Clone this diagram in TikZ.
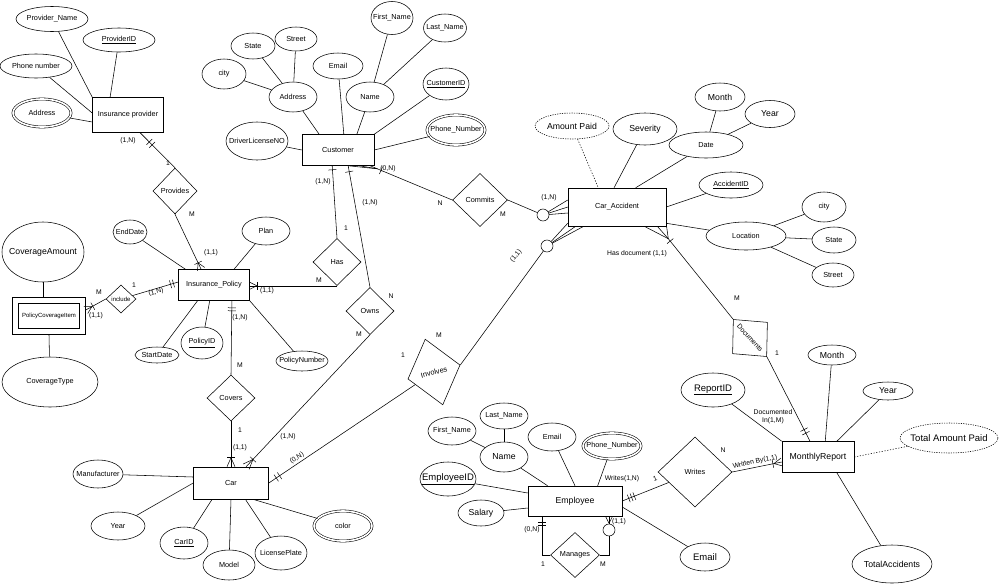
\documentclass[tikz,border=0pt]{standalone}
\usepackage{fontspec}
\setmainfont{Liberation Sans}
\usetikzlibrary{shapes.geometric,calc,decorations.markings}
\tikzset{
  every node/.style={font=\fontsize{7.3}{8.5}\selectfont},
  zw/.style={execute at begin node={\hbox to 0pt\bgroup\hss}, execute at end node={\hss\egroup}},
  sz/.style 2 args={minimum width=#1pt, minimum height=#2pt},
  ent/.style={draw, rectangle, inner sep=0pt},
  weak/.style={ent, double, double distance=5pt},
  attr/.style={draw, ellipse, inner sep=0pt, zw},
  multi/.style={attr, double, double distance=1.6pt},
  derived/.style={attr, dash pattern=on 1.2pt off 1.2pt},
  rel/.style={draw, diamond, inner sep=0pt, zw},
  knot/.style={draw, circle, inner sep=0pt, minimum size=12pt},
  lbl/.style={inner sep=0pt, font=\fontsize{6.8}{8}\selectfont},
  big/.style={font=\fontsize{8.7}{10}\selectfont},
  bigger/.style={font=\fontsize{9.5}{11}\selectfont},
  small/.style={font=\fontsize{6}{7}\selectfont},
  dotcon/.style={dash pattern=on 1.2pt off 1.6pt},
  mk/.style={line width=0.5pt},
  cfe/.style 2 args={postaction={decorate,decoration={markings,mark=at position -0.01pt with {\draw[mk] (-#1,0pt)--(0pt,#2) (-#1,0pt)--(0pt,-#2);}}}},
  cfs/.style 2 args={postaction={decorate,decoration={markings,mark=at position 0.01pt with {\draw[mk] (#1,0pt)--(0pt,#2) (#1,0pt)--(0pt,-#2);}}}},
  barend/.style={postaction={decorate,decoration={markings,mark=at position -#1 with {\draw[mk] (0pt,-4pt)--(0pt,4pt);}}}},
  barstart/.style={postaction={decorate,decoration={markings,mark=at position #1 with {\draw[mk] (0pt,-4pt)--(0pt,4pt);}}}},
}
\begin{document}
\begin{tikzpicture}[x=1pt,y=-1pt,line width=0.55pt]
\fill[white] (0,0) rectangle (1000,584);
\useasboundingbox (0,0) rectangle (1000,584);

% ---------- Insurance provider
\node[ent,sz={71}{35}] (ip) at (128,115) {Insurance provider};
\node[attr,sz={72}{25}] (provname) at (52,19) {Provider\_Name};
\node[attr,sz={72}{24}] (provid) at (119,40) {\underline{ProviderID}};
\node[attr,sz={72}{24}] (provphone) at (36,66) {Phone number};
\node[multi,sz={58}{28}] (provaddr) at (42,113) {Address};
\node[rel,sz={44}{46}] (provides) at (175,191) {Provides};

% ---------- Customer
\node[ent,sz={72}{31}] (cust) at (338,150) {Customer};
\node[attr,sz={42}{33}] (cfirst) at (392,18) {First\_Name};
\node[attr,sz={43}{28}] (clast) at (445,28) {Last\_Name};
\node[attr,sz={44}{26}] (cstate) at (253,46) {State};
\node[attr,sz={42}{24}] (cstreet) at (296,39) {Street};
\node[attr,sz={44}{30}] (ccity) at (224,74) {city};
\node[attr,sz={48}{30}] (caddr) at (293,97) {Address};
\node[attr,sz={50}{26}] (cemail) at (338,66) {Email};
\node[attr,sz={48}{30}] (cname) at (370,97) {Name};
\node[attr,sz={46}{32}] (cid) at (446,84) {\underline{CustomerID}};
\node[multi,sz={58}{30}] (cphone) at (456,130) {Phone\_Number};
\node[attr,sz={62}{38}] (cdl) at (257,141) {DriverLicenseNO};

% ---------- Car accident
\node[ent,sz={98}{38}] (acc) at (617,207) {Car\_Accident};
\node[derived,big,sz={74}{26}] (amtpaid) at (572,126) {Amount Paid};
\node[attr,big,sz={64}{32}] (sev) at (645,129) {Severity};
\node[attr,big,sz={50}{28}] (amonth) at (720,97) {Month};
\node[attr,big,sz={50}{27}] (ayear) at (770,114) {Year};
\node[attr,sz={74}{26}] (adate) at (706,145) {Date};
\node[attr,sz={64}{26}] (accid) at (731,185) {\underline{AccidentID}};
\node[attr,sz={80}{28}] (loc) at (746,236) {Location};
\node[attr,sz={44}{30}] (lcity) at (824,207) {city};
\node[attr,sz={44}{26}] (lstate) at (834,240) {State};
\node[attr,sz={42}{24}] (lstreet) at (833,275) {Street};
\node[knot] (circ1) at (543,215) {};
\node[knot] (circ2) at (547,246) {};

% ---------- Relationships
\node[rel,sz={55}{53}] (commits) at (480,200) {Commits};
\node[rel,sz={48}{47}] (has) at (337,262) {Has};
\node[rel,sz={48}{47}] (owns) at (370,311) {Owns};
\node[rel,sz={54}{68},rotate=15,font=\fontsize{7.4}{9}\selectfont] (involves) at (434,372) {Involves};
\node[rel,sz={50}{47},rotate=-48,font=\fontsize{6.9}{8}\selectfont] (documents) at (750,338) {Documents};
\node[rel,sz={48}{46}] (covers) at (231,398) {Covers};
\node[rel,small,sz={30}{28}] (include) at (121,299) {include};
\node[rel,sz={74}{70}] (writes) at (695,472) {Writes};
\node[rel,sz={49}{45}] (manages) at (575,555) {Manages};

% ---------- Insurance policy
\node[ent,sz={71}{31}] (pol) at (214,285) {Insurance\_Policy};
\node[attr,sz={34}{24}] (enddate) at (130,232) {EndDate};
\node[attr,sz={48}{28}] (plan) at (266,231) {Plan};
\node[attr,big,sz={82}{60}] (covamt) at (43,252) {CoverageAmount};
\node[weak,small,sz={67}{31}] (pci) at (49,316) {PolicyCoverageItem};
\node[attr,sz={96}{50}] (covtype) at (50,382) {CoverageType};
\node[attr,sz={44}{16}] (startdate) at (157,355) {StartDate};
\node[attr,sz={42}{32}] (policyid) at (202,343) {\underline{PolicyID}};
\node[attr,sz={52}{20}] (polnum) at (302,361) {PolicyNumber};

% ---------- Car
\node[ent,sz={75}{32}] (car) at (231,483) {Car};
\node[attr,sz={50}{28}] (manuf) at (98,474) {Manufacturer};
\node[attr,sz={54}{28}] (caryear) at (118,526) {Year};
\node[attr,sz={48}{32}] (carid) at (184,543) {\underline{CarID}};
\node[attr,sz={52}{30}] (model) at (229,565) {Model};
\node[attr,sz={52}{34}] (lplate) at (281,553) {LicensePlate};
\node[multi,sz={58}{30}] (carcolor) at (343,526) {color};

% ---------- Employee
\node[ent,big,sz={94}{30}] (emp) at (575,501) {Employee};
\node[attr,big,sz={48}{30}] (ename) at (504,457) {Name};
\node[attr,sz={48}{28}] (efirst) at (452,431) {First\_Name};
\node[attr,sz={48}{26}] (elast) at (504,416) {Last\_Name};
\node[attr,sz={48}{28}] (eemail) at (552,437) {Email};
\node[multi,sz={58}{26}] (ephone) at (612,446) {Phone\_Number};
\node[attr,bigger,sz={56}{34}] (eid) at (448,479) {\underline{EmployeeID}};
\node[attr,big,sz={46}{26}] (salary) at (481,513) {Salary};
\node[attr,bigger,sz={50}{28}] (eemail2) at (705,557) {Email};
\node[knot] (ecirc) at (609,530) {};

% ---------- Monthly report
\node[ent,big,sz={72}{31}] (mr) at (818,457) {MonthlyReport};
\node[attr,big,sz={48}{20}] (rmonth) at (832,355) {Month};
\node[attr,big,sz={50}{18}] (ryear) at (888,391) {Year};
\node[attr,bigger,sz={64}{34}] (rid) at (713,390) {\underline{ReportID}};
\node[derived,bigger,sz={98}{30}] (tap) at (949,438) {Total Amount Paid};
\node[attr,big,sz={80}{38}] (tacc) at (892,564) {TotalAccidents};

% ================= connectors
% insurance provider
\draw (provname) -- (ip.north west);
\draw (provid) -- ($(ip.north west)!.25!(ip.north east)$);
\draw (provphone) -- ($(ip.west)+(0,-2)$);
\draw (provaddr) -- ($(ip.west)+(0,7)$);
\draw[barstart=13pt,barstart=17pt] ($(ip.south west)!.67!(ip.south east)$) -- (provides.north);
\draw[cfe={7pt}{4pt},barend=7pt] (provides.south) -- ($(pol.north west)!.32!(pol.north east)$);

% insurance policy
\draw (enddate) -- ($(pol.north west)!.1!(pol.north east)$);
\draw (plan) -- ($(pol.north west)!.78!(pol.north east)$);
\draw (startdate) -- ($(pol.south west)!.27!(pol.south east)$);
\draw (policyid) -- ($(pol.south west)!.44!(pol.south east)$);
\draw (polnum) -- (pol.south east);
\draw[barstart=7pt,barstart=10pt] ($(pol.south west)!.75!(pol.south east)$) -- (covers.north);
\draw[cfe={9pt}{4pt},barend=9pt] (covers.south) -- (car.north);
\draw[cfe={7pt}{3.5pt},barend=7pt] (has.south) -- (pol.east |- has.south);
\draw (covamt.south) -- ($(covamt.south |- pci.north)+(0,-3)$);
\draw (covtype) -- ($(pci.south)+(0,3)$);
\draw[cfs={7pt}{4pt},barstart=8pt] ($(pci.east)+(3,-6)$) -- (include.west);
\draw[barend=5pt,barend=8pt] (include) -- ($(pol.west)+(0,-3)$);

% customer
\draw (caddr) -- ($(cust.north west)!.24!(cust.north east)$);
\draw (cemail) -- ($(cust.north west)!.58!(cust.north east)$);
\draw (cname) -- ($(cust.north west)!.76!(cust.north east)$);
\draw (cid) -- (cust.north east);
\draw (cphone) -- (cust.east);
\draw (cdl) -- (cust.west);
\draw (cstate) -- (caddr);
\draw (cstreet) -- (caddr);
\draw (ccity) -- (caddr);
\draw (cfirst) -- (cname);
\draw (clast) -- (cname);
\draw[barstart=4pt] ($(cust.south west)!.42!(cust.south east)$) -- (has.north);
\draw[barstart=6pt] ($(cust.south west)!.64!(cust.south east)$) -- (owns.north);
\coordinate (cheel) at ($(cust.south east)+(3,3)$);
\draw[barstart=4pt] (cheel) -- (commits.west);
\draw (cheel) -- ($(cust.south east)+(-26,0)$);
\draw (cheel) -- ($(cust.south east)+(-15,0)$);
\draw (cheel) -- ($(cust.south east)+(-4,0)$);
\draw[cfe={10pt}{4pt},barend=10pt] (owns.south) -- ($(car.north west)!.7!(car.north east)$);

% car accident
\draw (commits.east) -- (circ1);
\draw (circ1) -- ($(acc.west)+(0,-7)$);
\draw (circ1) -- (acc.west);
\draw (circ1) -- ($(acc.west)+(0,6)$);
\draw[barstart=9pt,barstart=13pt] (car.east) -- (involves);
\draw (involves.east) -- (circ2);
\draw (circ2) -- ($(acc.south west)+(0,-3)$);
\draw (circ2) -- ($(acc.south west)+(8,0)$);
\draw (circ2) -- ($(acc.south west)+(16,0)$);
\draw[dotcon] (amtpaid) -- ($(acc.north west)!.31!(acc.north east)$);
\draw (sev) -- ($(acc.north west)!.47!(acc.north east)$);
\draw (adate) -- ($(acc.north west)!.69!(acc.north east)$);
\draw (amonth) -- (adate);
\draw (ayear) -- (adate);
\draw (accid) -- (acc.east);
\draw (loc) -- ($(acc.south east)+(0,-3)$);
\draw (lcity) -- (loc);
\draw (lstate) -- (loc);
\draw (lstreet) -- (loc);
\coordinate (dstart) at ($(acc.south east)+(-8,0)$);
\coordinate (dheel) at ($(dstart)!16pt!(documents.west)$);
\draw[barstart=3pt] (dheel) -- (documents.west);
\draw (dheel) -- ($(acc.south east)+(-22,0)$);
\draw (dheel) -- ($(acc.south east)+(-9,0)$);
\draw (dheel) -- ($(acc.south east)+(0,-2)$);
\draw[barend=9pt,barend=13pt] (documents.east) -- ($(mr.north west)!.39!(mr.north east)$);

% monthly report
\draw[cfe={8pt}{4pt},barend=9pt] (writes.east) -- ($(mr.west)+(0,5)$);
\draw (rid) -- (mr.north west);
\draw (rmonth) -- ($(mr.north west)!.6!(mr.north east)$);
\draw (ryear) -- ($(mr.north west)!.76!(mr.north east)$);
\draw[dotcon] (mr.east) -- (tap);
\draw ($(mr.south west)!.76!(mr.south east)$) -- (tacc);

% employee
\draw[barstart=7pt,barstart=10pt,barstart=13pt] (emp.east) -- (writes);
\draw ($(emp.east)+(0,6)$) -- (eemail2);
\draw (ename) -- ($(emp.north west)!.21!(emp.north east)$);
\draw (eemail) -- (emp.north);
\draw (ephone) -- ($(emp.north west)!.74!(emp.north east)$);
\draw (eid) -- ($(emp.west)+(0,-8)$);
\draw (salary) -- ($(emp.west)+(0,7)$);
\draw (efirst) -- (ename);
\draw (elast) -- (ename);
\draw[barstart=6pt,barstart=9pt] ($(emp.south west)!.15!(emp.south east)$) |- (manages.west);
\draw (ecirc) |- (manages.east);
\draw[cfe={7pt}{3.5pt}] (ecirc) -- (ecirc |- emp.south);

% car
\draw (manuf) -- ($(car.west)+(0,-6)$);
\draw (caryear) -- (car.west);
\draw (carid) -- ($(car.south west)!.25!(car.south east)$);
\draw (model) -- (car.south);
\draw (lplate) -- ($(car.south west)!.69!(car.south east)$);
\draw (carcolor) -- ($(car.south west)!.79!(car.south east)$);

% ================= labels
\node[lbl] (l1) at (128,141) {(1,N)};
\node[lbl] (l2) at (168,163) {1};
\node[lbl] (l3) at (192,214) {M};
\node[lbl] (l4) at (211,253) {(1,1)};
\node[lbl] (l5) at (99,292) {M};
\node[lbl] (l6) at (134,285) {1};
\node[lbl] (l7) at (96,316) {(1,1)};
\node[lbl,rotate=15] (l8) at (156,292) {(1,N)};
\node[lbl] (l9) at (240,318) {(1,N)};
\node[lbl] (l10) at (240,365) {M};
\node[lbl] (l11) at (240,430) {1};
\node[lbl] (l12) at (240,448) {(1,1)};
\node[lbl] (l13) at (267,291) {(1,1)};
\node[lbl] (l14) at (319,280) {M};
\node[lbl] (l15) at (346,228) {1};
\node[lbl] (l16) at (323,182) {(1,N)};
\node[lbl] (l17) at (370,203) {(1,N)};
\node[lbl] (l18) at (388,169) {(0,N)};
\node[lbl] (l19) at (440,203) {N};
\node[lbl] (l20) at (503,214) {M};
\node[lbl] (l21) at (549,198) {(1,N)};
\node[lbl] (l22) at (391,296) {N};
\node[lbl] (l23) at (359,334) {M};
\node[lbl] (l24) at (288,437) {(1,N)};
\node[lbl,rotate=31] (l25) at (297,458) {(0,N)};
\node[lbl] (l26) at (403,355) {1};
\node[lbl] (l27) at (439,335) {M};
\node[lbl,rotate=50] (l28) at (516,256) {(1,1)};
\node[lbl] (l29) at (637,254) {Has document (1,1)};
\node[lbl] (l30) at (737,298) {M};
\node[lbl] (l31) at (777,353) {1};
\node[lbl,align=center] (l32) at (773,417) {Documented\\In(1,M)};
\node[lbl] (l33) at (723,450) {N};
\node[lbl,rotate=12] (l34) at (755,462) {Written By(1,1)};
\node[lbl] (l35) at (622,479) {Writes(1,N)};
\node[lbl,rotate=20] (l36) at (655,479) {1};
\node[lbl] (l37) at (532,530) {(0,N)};
\node[lbl] (l38) at (543,564) {1};
\node[lbl] (l39) at (619,522) {(1,1)};
\node[lbl] (l40) at (603,564) {M};
\end{tikzpicture}
\end{document}
